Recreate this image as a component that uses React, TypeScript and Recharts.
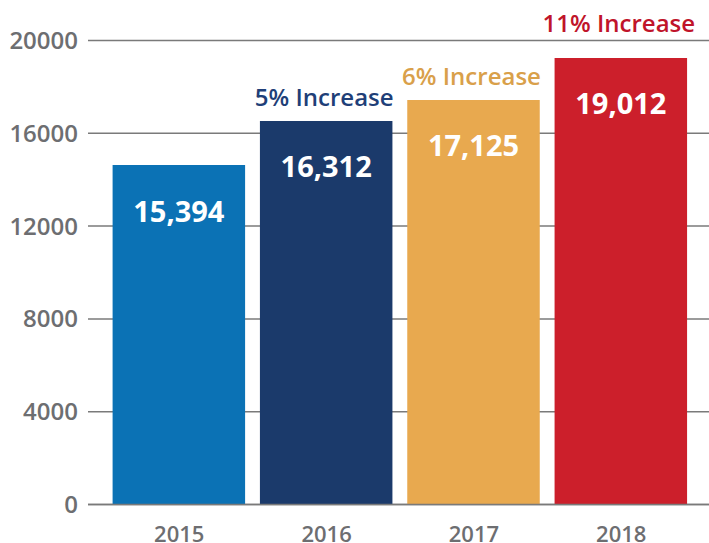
import * as React from "react"
import { BarChart, Bar, Cell, XAxis, YAxis, CartesianGrid, LabelList, ReferenceLine } from "recharts"

const years = ["2015", "2016", "2017", "2018"]
// bar heights as drawn in the picture
const heights = [14630, 16530, 17440, 19250]
const valueLabels = ["15,394", "16,312", "17,125", "19,012"]
const increaseLabels = ["", "5% Increase", "6% Increase", "11% Increase"]
const barColors = ["#0b72b5", "#1b3a6b", "#e8a94f", "#cc1f2b"]
const increaseColors = ["", "#1f3f78", "#d9a04a", "#c0142a"]
const yTicks = [0, 4000, 8000, 12000, 16000, 20000]

const data = years.map((year, i) => ({
  year,
  value: heights[i],
  label: valueLabels[i],
  increase: increaseLabels[i],
}))

const ValueLabel = (props: any) => {
  const { x, y, width, index } = props
  return (
    <text
      x={x + width / 2}
      y={y + 46}
      dy="0.36em"
      textAnchor="middle"
      fill="#ffffff"
      fontFamily="'Open Sans', sans-serif"
      fontWeight={700}
      fontSize={29}
    >
      {valueLabels[index]}
    </text>
  )
}

const IncreaseLabel = (props: any) => {
  const { x, y, width, index } = props
  if (!increaseLabels[index]) return null
  const gap = index === years.length - 1 ? 26 : 15
  return (
    <text
      x={x + width / 2 - 2}
      y={y - gap}
      textAnchor="middle"
      fill={increaseColors[index]}
      fontFamily="'Open Sans', sans-serif"
      fontWeight={600}
      fontSize={24}
    >
      {increaseLabels[index]}
    </text>
  )
}

export default function App() {
  return (
    <div style={{ position: "absolute", left: 0, top: 0, background: "#fff" }}>
      <BarChart width={709} height={543} data={data} margin={{ top: 40.5, right: 0, bottom: 0, left: 0 }}>
        <CartesianGrid vertical={false} stroke="#7a7a7a" strokeWidth={1.5} />
        <XAxis
          dataKey="year"
          axisLine={false}
          tickLine={false}
          tickSize={0}
          tickMargin={22}
          height={38.5}
          padding={{ left: 17.6, right: 14.1 }}
          tick={{ fill: "#6d6e71", fontSize: 22, fontWeight: 600, fontFamily: "'Open Sans', sans-serif" }}
        />
        <YAxis
          domain={[0, 20000]}
          ticks={yTicks}
          axisLine={false}
          tickLine={false}
          tickSize={0}
          tickMargin={10}
          width={88}
          interval={0}
          tick={{ fill: "#6d6e71", fontSize: 24, fontWeight: 600, fontFamily: "'Open Sans', sans-serif" }}
        />
        <Bar dataKey="value" barSize={132.5} isAnimationActive={false}>
          {data.map((d, i) => (
            <Cell key={d.year} fill={barColors[i]} />
          ))}
          <LabelList dataKey="label" content={ValueLabel} />
          <LabelList dataKey="increase" content={IncreaseLabel} />
        </Bar>
        <ReferenceLine y={0} stroke="#7a7a7a" strokeWidth={1.5} />
      </BarChart>
    </div>
  )
}
